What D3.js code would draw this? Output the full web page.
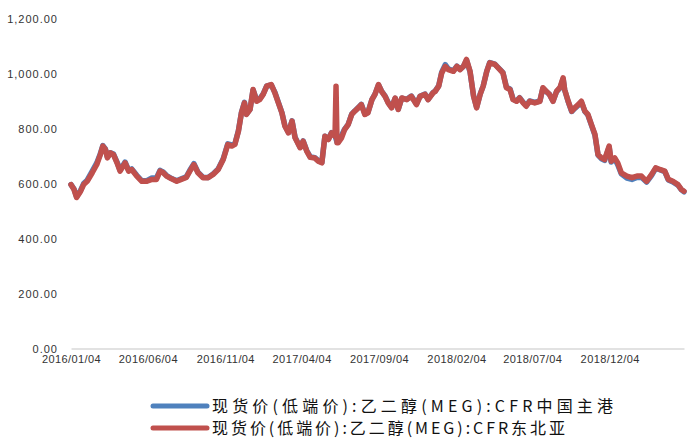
<!DOCTYPE html>
<meta charset="utf-8">
<head>
<script src="https://d3js.org/d3.v7.min.js"></script>
<style>
  body { margin: 0; background: #fff; }
  .tick text { font-family: "Liberation Sans", Arial, sans-serif; font-size: 11px; fill: #333; }
  .yaxis .tick text { letter-spacing: 1px; }
  .xaxis .tick text { letter-spacing: 0.4px; }
  .legend text { font-family: "Noto Sans CJK SC", sans-serif; font-size: 16px; fill: #111; }
</style>
</head>
<body>
<div id="chart"></div>
<script>

  // dates (roughly weekly)
  const dates = [
    "2016-01-04","2016-01-10","2016-01-15","2016-01-23","2016-01-29","2016-02-05","2016-02-15","2016-02-24",
    "2016-03-02","2016-03-07","2016-03-12","2016-03-16","2016-03-22","2016-03-28","2016-04-04","2016-04-10",
    "2016-04-20","2016-04-27","2016-05-03","2016-05-13","2016-05-23","2016-06-02","2016-06-12","2016-06-21",
    "2016-06-28","2016-07-04","2016-07-11","2016-07-21","2016-07-31","2016-08-09","2016-08-19","2016-08-26",
    "2016-09-03","2016-09-11","2016-09-21","2016-10-01","2016-10-11","2016-10-21","2016-10-31","2016-11-09",
    "2016-11-17","2016-11-23","2016-11-30","2016-12-06","2016-12-12","2016-12-16","2016-12-23","2016-12-29",
    "2017-01-05","2017-01-11","2017-01-18","2017-01-25","2017-02-03","2017-02-10","2017-02-17","2017-02-24",
    "2017-03-02","2017-03-09","2017-03-16","2017-03-22","2017-04-01","2017-04-07","2017-04-14","2017-04-21",
    "2017-04-30","2017-05-07","2017-05-14","2017-05-20","2017-05-27","2017-06-02","2017-06-09","2017-06-11",
    "2017-06-13","2017-06-15","2017-06-22","2017-06-28","2017-07-05","2017-07-12","2017-07-18","2017-07-25",
    "2017-07-31","2017-08-07","2017-08-13","2017-08-21","2017-08-27","2017-09-03","2017-09-09","2017-09-16",
    "2017-09-22","2017-09-29","2017-10-06","2017-10-12","2017-10-19","2017-10-29","2017-11-07","2017-11-17",
    "2017-11-24","2017-12-04","2017-12-10","2017-12-20","2017-12-24","2017-12-31","2018-01-06","2018-01-13",
    "2018-01-19","2018-01-29","2018-02-05","2018-02-11","2018-02-18","2018-02-24","2018-03-03","2018-03-10",
    "2018-03-16","2018-03-23","2018-03-29","2018-04-05","2018-04-11","2018-04-21","2018-05-01","2018-05-07",
    "2018-05-14","2018-05-21","2018-05-27","2018-06-03","2018-06-09","2018-06-16","2018-06-22","2018-06-29",
    "2018-07-09","2018-07-19","2018-07-25","2018-08-01","2018-08-07","2018-08-14","2018-08-21","2018-08-28",
    "2018-09-03","2018-09-06","2018-09-13","2018-09-20","2018-09-26","2018-10-03","2018-10-09","2018-10-16",
    "2018-10-22","2018-10-29","2018-11-05","2018-11-11","2018-11-18","2018-11-24","2018-12-03","2018-12-07",
    "2018-12-14","2018-12-20","2018-12-27","2019-01-07","2019-01-17","2019-01-27","2019-02-05","2019-02-15",
    "2019-02-25","2019-03-05","2019-03-13","2019-03-23","2019-03-30","2019-04-08","2019-04-18","2019-04-25",
    "2019-04-30"
  ];

  // 现货价(低端价):乙二醇(MEG):CFR中国主港
  const cfrChina = [
    596,580,552,575,600,612,645,675,
    708,738,726,696,712,707,678,648,
    678,648,653,630,610,610,620,620,
    648,642,629,618,610,617,624,648,
    672,641,623,622,635,653,690,744,
    740,744,792,858,895,853,870,940,
    905,907,926,955,958,932,895,858,
    810,786,828,768,732,755,720,697,
    694,683,677,772,762,785,774,762,
    750,750,775,798,815,852,864,876,
    888,853,858,905,925,958,936,918,
    895,877,910,870,910,906,918,889,
    917,925,906,931,936,955,1005,1032,
    1017,1010,1027,1015,1026,1048,1006,918,
    877,925,955,1008,1040,1034,1015,1003,
    950,944,907,900,912,895,883,900,
    895,900,946,934,924,900,934,948,
    980,940,898,862,873,885,897,862,
    849,812,775,703,690,684,732,678,
    690,668,635,620,615,622,623,605,
    630,655,650,643,613,606,594,577,
    570
  ];

  // 现货价(低端价):乙二醇(MEG):CFR东北亚
  const cfrNEAsia = [
    596,578,549,572,596,608,639,669,
    705,736,724,693,711,705,675,645,
    675,645,651,627,608,608,615,615,
    645,640,627,617,608,615,622,645,
    669,639,621,621,633,651,687,742,
    736,742,790,857,893,851,869,942,
    899,905,924,954,960,930,893,857,
    808,784,827,766,730,754,718,695,
    693,681,675,772,760,784,772,954,
    748,748,766,796,814,851,863,875,
    887,851,857,905,924,960,935,917,
    893,875,911,869,911,905,917,887,
    917,924,905,930,935,954,1002,1026,
    1014,1008,1026,1014,1026,1051,1008,917,
    875,924,954,1008,1039,1033,1014,1002,
    948,942,905,899,911,893,881,899,
    893,899,948,935,924,899,935,950,
    984,942,899,863,875,887,899,863,
    851,814,778,705,693,687,736,681,
    693,675,639,627,621,627,627,608,
    633,657,651,645,615,608,596,578,
    572
  ];

  const yTicks = [0, 200, 400, 600, 800, 1000, 1200];
  const xTickLabels = ["2016/01/04","2016/06/04","2016/11/04","2017/04/04","2017/09/04","2018/02/04","2018/07/04","2018/12/04"];
  const seriesNames = ["现货价(低端价):乙二醇(MEG):CFR中国主港", "现货价(低端价):乙二醇(MEG):CFR东北亚"];
  const colors = ["#4F81BD", "#C0504D"];

  var width = 698, height = 439;
  var plot = {left: 71, right: 684, top: 18.5, bottom: 348.5};

  const svg = d3.select("#chart")
    .append("svg")
      .attr("width", width)
      .attr("height", height);

  const parse = d3.timeParse("%Y-%m-%d");
  const parseTick = d3.timeParse("%Y/%m/%d");
  const dd = dates.map(parse);

  const x = d3.scaleTime()
    .domain(d3.extent(dd))
    .range([plot.left, plot.right]);

  const y = d3.scaleLinear()
    .domain([0, 1200])
    .range([plot.bottom, plot.top]);

  // y axis: labels only
  const yAxis = svg.append("g")
    .attr("class", "yaxis")
    .attr("transform", "translate(63,0)")
    .call(d3.axisLeft(y).tickValues(yTicks).tickFormat(d3.format(",.2f")).tickSize(0).tickPadding(5));
  yAxis.select(".domain").remove();

  // x axis
  const xAxis = svg.append("g")
    .attr("class", "xaxis")
    .attr("transform", `translate(0,${plot.bottom})`)
    .call(d3.axisBottom(x)
      .tickValues(xTickLabels.map(parseTick))
      .tickFormat(d3.timeFormat("%Y/%m/%d"))
      .tickSize(0).tickPadding(7));
  xAxis.select(".domain").attr("stroke", "#d9d9d9").attr("stroke-width", 1.5);

  const line = d3.line()
    .x((d, i) => x(dd[i]))
    .y(d => y(d));

  [cfrChina, cfrNEAsia].forEach(function(vals, k) {
    svg.append("path")
      .datum(vals)
      .attr("fill", "none")
      .attr("stroke", colors[k])
      .attr("stroke-width", 5.5)
      .attr("stroke-linejoin", "round")
      .attr("stroke-linecap", "round")
      .attr("d", line);
  });

  // legend
  const legend = svg.append("g").attr("class", "legend");
  const textLen = [401, 353];
  seriesNames.forEach(function(name, k) {
    var ly = 406 + k * 22;
    legend.append("line")
      .attr("x1", 153).attr("x2", 207)
      .attr("y1", ly).attr("y2", ly)
      .attr("stroke", colors[k])
      .attr("stroke-width", 5)
      .attr("stroke-linecap", "round");
    legend.append("text")
      .attr("x", 212)
      .attr("y", ly + 6)
      .attr("textLength", textLen[k])
      .attr("lengthAdjust", "spacing")
      .text(name);
  });

</script>
</body>
